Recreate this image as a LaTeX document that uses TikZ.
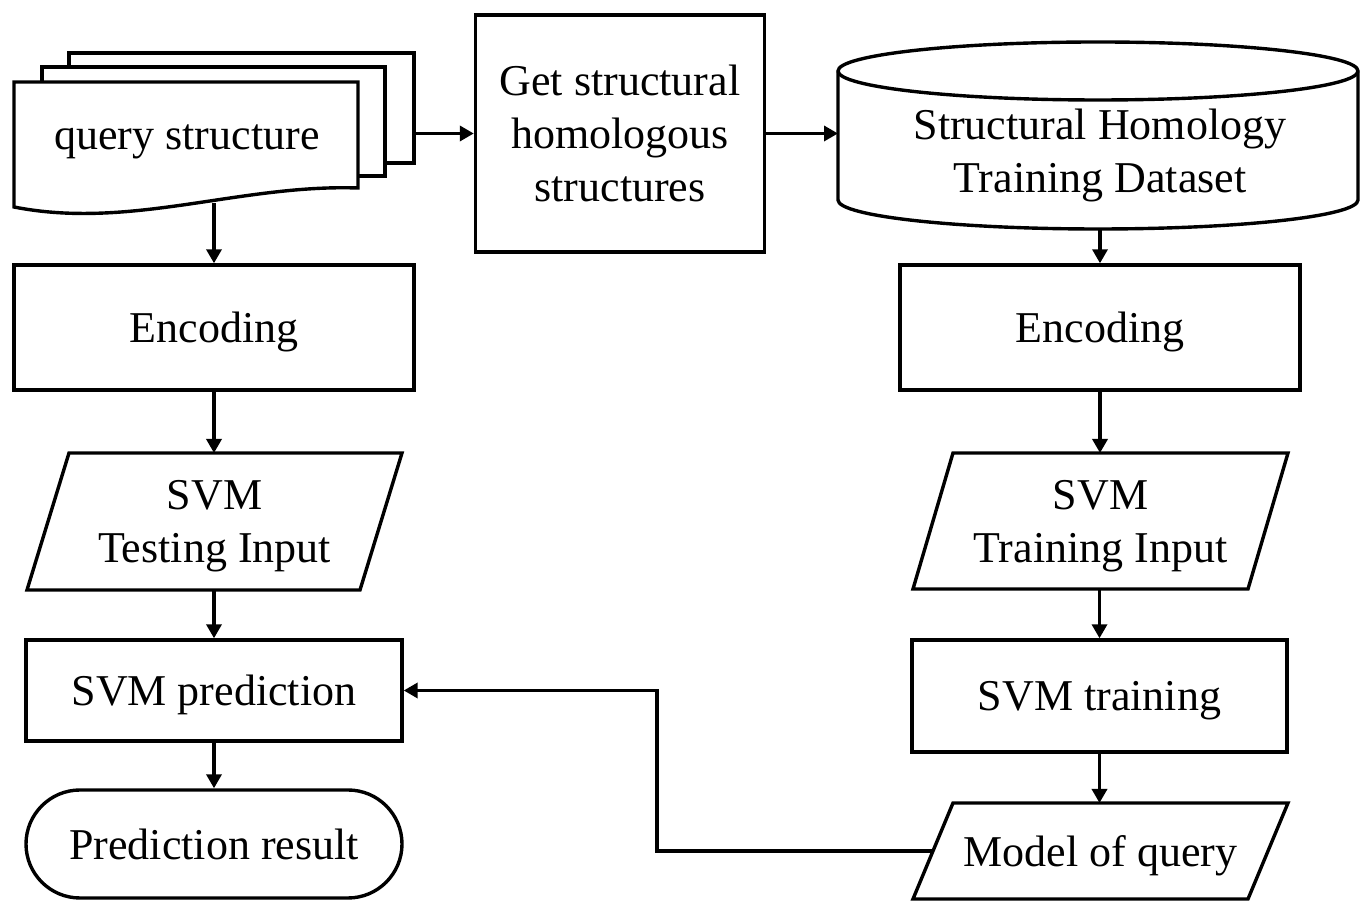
\documentclass[tikz,border=0pt]{standalone}
\usepackage{fontspec}
\setmainfont{Liberation Serif}
\usepackage{tikz}
\usetikzlibrary{arrows.meta}
\usetikzlibrary{positioning,calc}

\begin{document}
\begin{tikzpicture}[x=1pt,y=1pt,>={Triangle[length=14pt,width=15pt]}]
% -------------------------------------------------
% Styles
% -------------------------------------------------
\tikzset{
  line/.style={draw=black, line width=3.4pt},
  box/.style={line, fill=white, rectangle, align=center, inner sep=0pt, text depth=0pt, font=\fontsize{44}{53}\selectfont},
  txt/.style={align=center, inner sep=0pt, outer sep=0pt, text depth=0pt, font=\fontsize{44}{53}\selectfont},
  flowarrow/.style={->, line width=3.4pt},
}
\useasboundingbox (0,0) rectangle (1361,902);
% -------------------------------------------------
% query structure (stacked documents)
% -------------------------------------------------
\node[box, minimum width=345pt, minimum height=110pt] (sheetC) at (241.5,794) {};
\node[box, minimum width=343pt, minimum height=109pt] (sheetB) at (213.5,780.5) {};
\draw[line, fill=white] (14,820) -- (358,820) -- (358,714)
  .. controls (240,718) and (130,672) .. (14,695) -- cycle;
\coordinate (qsbot) at (214,699);
\node[txt] (qs) at (187,765) {query structure};
% -------------------------------------------------
% homologous structures and dataset
% -------------------------------------------------
\node[box, minimum width=289pt, minimum height=237pt] (get) at (620,768.5) {Get structural\\homologous\\structures};

\draw[line, fill=white] (838,831) -- (838,702)
  arc[start angle=180, end angle=360, x radius=260pt, y radius=29pt] -- (1358,831)
  arc[start angle=0, end angle=180, x radius=260pt, y radius=29pt] -- cycle;
\draw[line] (838,831) arc[start angle=180, end angle=360, x radius=260pt, y radius=29pt];
\node[txt] (db) at (1100,751) {Structural Homology\\Training Dataset};
\coordinate (dbleft) at (838,768);
\coordinate (dbbot) at (1100,672);
% -------------------------------------------------
% left column: testing
% -------------------------------------------------
\node[box, minimum width=400pt, minimum height=125pt] (encL) at (214,574.5) {Encoding};

\node[txt, minimum width=333pt, minimum height=137pt] (tin) at (214.5,380.5) {SVM\\Testing Input};
\draw[line] ([xshift=21pt]tin.north west) -- ([xshift=21pt]tin.north east)
  -- ([xshift=-21pt]tin.south east) -- ([xshift=-21pt]tin.south west) -- cycle;

\node[box, minimum width=376pt, minimum height=101pt] (pred) at (214,211.5) {SVM prediction};
\node[box, minimum width=376pt, minimum height=108pt, rounded corners=54pt] (res) at (214,58) {Prediction result};
% -------------------------------------------------
% right column: training
% -------------------------------------------------
\node[box, minimum width=400pt, minimum height=125pt] (encR) at (1100,574.5) {Encoding};

\node[txt, minimum width=335pt, minimum height=136pt] (trin) at (1100.5,381) {SVM\\Training Input};
\draw[line] ([xshift=20pt]trin.north west) -- ([xshift=20pt]trin.north east)
  -- ([xshift=-20pt]trin.south east) -- ([xshift=-20pt]trin.south west) -- cycle;

\node[box, minimum width=375pt, minimum height=112pt] (train) at (1099.5,206) {SVM training};

\node[txt, minimum width=335pt, minimum height=96pt] (mq) at (1100.5,51) {Model of query};
\draw[line] ([xshift=20pt]mq.north west) -- ([xshift=20pt]mq.north east)
  -- ([xshift=-20pt]mq.south east) -- ([xshift=-20pt]mq.south west) -- cycle;
% -------------------------------------------------
% connectors
% -------------------------------------------------
\draw[flowarrow] (get.west -| sheetC.east) -- (get.west);
\draw[flowarrow] (get.east) -- (get.east -| dbleft);
\draw[flowarrow] (qsbot) -- (encL.north);
\draw[flowarrow] (encL.south) -- (encL.south |- tin.north);
\draw[flowarrow] (tin.south -| pred.north) -- (pred.north);
\draw[flowarrow] (pred.south) -- (res.north);
\draw[flowarrow] (dbbot) -- (encR.north);
\draw[flowarrow] (encR.south) -- (encR.south |- trin.north);
\draw[flowarrow] (trin.south -| train.north) -- (train.north);
\draw[flowarrow] (train.south) -- (train.south |- mq.north);
\draw[flowarrow] (mq.west) -- ++(-276pt,0) |- (pred.east);

\end{tikzpicture}
\end{document}
